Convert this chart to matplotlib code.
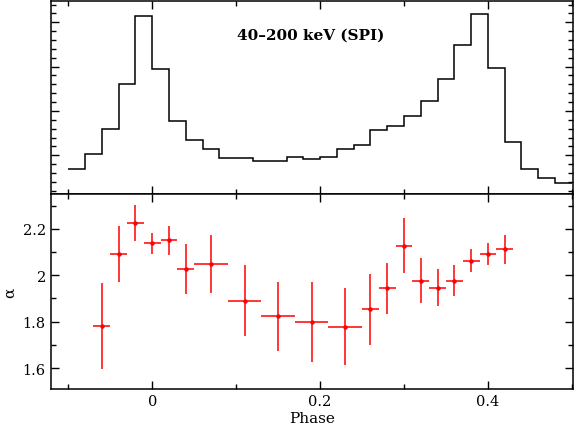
import numpy as np
import matplotlib
matplotlib.use("Agg")
import matplotlib.pyplot as plt
from matplotlib.ticker import MultipleLocator

# top panel: pulse profile 40-200 keV (arbitrary units)
bin_edges = [-0.10, -0.08, -0.06, -0.04, -0.02, 0.00, 0.02, 0.04, 0.06, 0.08,
             0.10, 0.12, 0.14, 0.16, 0.18, 0.20, 0.22, 0.24, 0.26, 0.28,
             0.30, 0.32, 0.34, 0.36, 0.38, 0.40, 0.42, 0.44, 0.46, 0.48, 0.50]
profile = [0.69, 1.02, 1.59, 2.61, 4.14, 2.95, 1.77, 1.35, 1.14, 0.93,
           0.93, 0.88, 0.87, 0.96, 0.92, 0.96, 1.14, 1.24, 1.56, 1.67,
           1.88, 2.23, 2.71, 3.49, 4.19, 2.97, 1.31, 0.70, 0.49, 0.38]

# bottom panel: photon index alpha vs phase
phase = [-0.06, -0.04, -0.02, 0.00, 0.02, 0.04, 0.07, 0.11, 0.15, 0.19,
         0.23, 0.26, 0.28, 0.30, 0.32, 0.34, 0.36, 0.38, 0.40, 0.42]
phase_err = [0.01, 0.01, 0.01, 0.01, 0.01, 0.01, 0.02, 0.02, 0.02, 0.02,
             0.02, 0.01, 0.01, 0.01, 0.01, 0.01, 0.01, 0.01, 0.01, 0.01]
alpha = [1.781, 2.092, 2.224, 2.137, 2.151, 2.026, 2.049, 1.891, 1.824, 1.800,
         1.779, 1.853, 1.943, 2.127, 1.976, 1.947, 1.976, 2.062, 2.092, 2.111]
alpha_err = [0.185, 0.12, 0.077, 0.045, 0.063, 0.108, 0.124, 0.154, 0.149, 0.172,
             0.165, 0.153, 0.11, 0.118, 0.097, 0.078, 0.066, 0.05, 0.047, 0.063]

plt.rcParams["font.family"] = "DejaVu Serif"
plt.rcParams["axes.linewidth"] = 1.1

fig = plt.figure(figsize=(5.74, 4.31), dpi=100)
ax1 = fig.add_axes([0.0883, 0.5476, 0.9094, 0.4478])
ax2 = fig.add_axes([0.0883, 0.0951, 0.9094, 0.4525], sharex=ax1)

ax1.stairs(profile, bin_edges, baseline=None, color="black", linewidth=1.1)
ax1.set_ylim(0.127, 4.48)
ax1.yaxis.set_major_locator(MultipleLocator(1))
ax1.yaxis.set_minor_locator(MultipleLocator(0.2))
ax1.text(0.189, 3.71, "40\u2013200 keV (SPI)", ha="center", va="center",
         fontsize=11, fontweight="bold")

ax2.errorbar(phase, alpha, xerr=phase_err, yerr=alpha_err, fmt="o",
             color="red", ecolor="red", markersize=2.2, elinewidth=1.1,
             capsize=0)
ax2.set_ylim(1.51, 2.35)
ax2.yaxis.set_minor_locator(MultipleLocator(0.1))
ax2.set_yticks([1.6, 1.8, 2.0, 2.2])
ax2.set_yticklabels(["1.6", "1.8", "2", "2.2"])
ax2.set_ylabel("\u03b1", fontsize=11)
ax2.set_xlabel("Phase", fontsize=11, labelpad=2)

ax2.set_xlim(-0.121, 0.501)
ax2.xaxis.set_minor_locator(MultipleLocator(0.1))
ax2.set_xticks([0.0, 0.2, 0.4])
ax2.set_xticklabels(["0", "0.2", "0.4"])

for ax in (ax1, ax2):
    ax.tick_params(which="both", direction="in", top=True, right=True,
                   width=1.0, labelsize=10.5)
    ax.tick_params(which="major", length=6)
    ax.tick_params(which="minor", length=3.5)
ax1.tick_params(labelbottom=False, labelleft=False)

fig.savefig("out.png", dpi=100)
